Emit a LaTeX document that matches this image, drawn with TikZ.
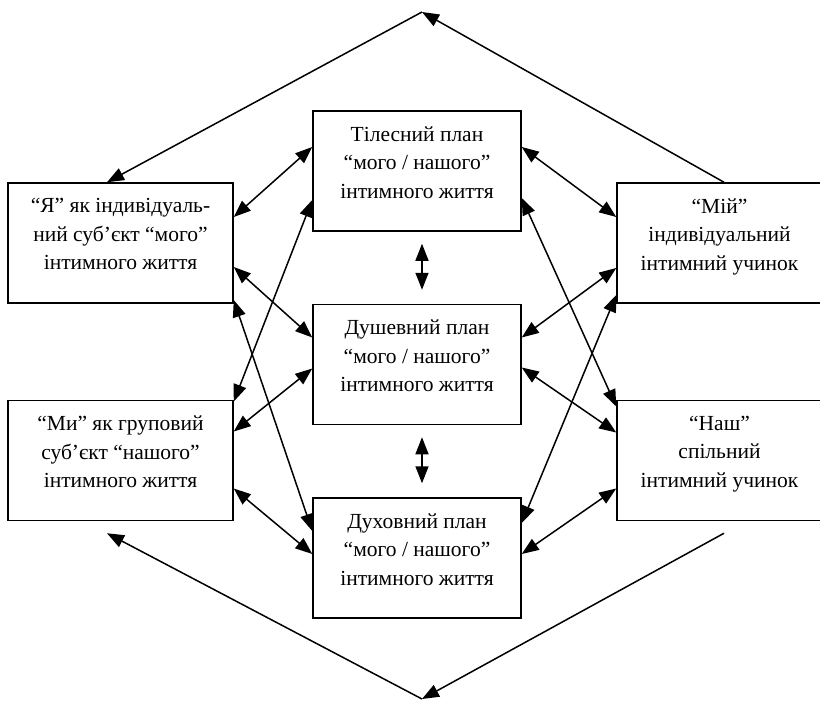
\documentclass[tikz,border=0pt]{standalone}
\usepackage{fontspec}
\setmainfont{Liberation Serif}
\usetikzlibrary{positioning}
\usetikzlibrary{arrows.meta}

\begin{document}
\begin{tikzpicture}[x=1pt, y=-1pt, >={Triangle[length=17pt, width=13pt]},
  box/.style={draw, line width=1.5pt, align=center, minimum height=120pt, inner sep=0pt, font=\fontsize{21.5}{28.5}\selectfont},
  link/.style={<->, line width=1.5pt}]
\useasboundingbox (0,0) rectangle (820,701);
\clip (0,0) rectangle (820,701);
% planes in the middle
\node[box, minimum width=208pt] (c1) at (417,171) {Тілесний план\\“мого / нашого”\\інтимного життя\\[-11pt]\mbox{}};
\node[box, minimum width=208pt, below=72pt of c1] (c2) {Душевний план\\“мого / нашого”\\інтимного життя\\[-11pt]\mbox{}};
\node[box, minimum width=208pt, below=72pt of c2] (c3) {Духовний план\\“мого / нашого”\\інтимного життя\\[-11pt]\mbox{}};
% subjects
\node[box, minimum width=225pt] (l1) at (120.5,243) {“Я” як індивідуаль-\\ний суб’єкт “мого”\\інтимного життя\\[-11pt]\mbox{}};
\node[box, minimum width=225pt, below=96pt of l1] (l2) {“Ми” як груповий\\суб’єкт “нашого”\\інтимного життя\\[-11pt]\mbox{}};
% acts
\node[box, minimum width=205pt] (r1) at (719.5,243) {“Мій”\\індивідуальний\\інтимний учинок\\[-11pt]\mbox{}};
\node[box, minimum width=205pt, below=96pt of r1] (r2) {“Наш”\\спільний\\інтимний учинок\\[-11pt]\mbox{}};

\draw[link] ([yshift=26pt]l1.east) -- ([yshift=24pt]c1.west);
\draw[link] ([yshift=-24pt]l1.east) -- ([yshift=27pt]c2.west);
\draw[link] ([yshift=-57pt]l1.east) -- ([yshift=27pt]c3.west);
\draw[link] ([yshift=59pt]l2.east) -- ([yshift=-29pt]c1.west);
\draw[link] ([yshift=29pt]l2.east) -- ([yshift=-4pt]c2.west);
\draw[link] ([yshift=-28pt]l2.east) -- ([yshift=4pt]c3.west);

\draw[link] ([yshift=24pt]c1.east) -- ([yshift=26pt]r1.west);
\draw[link] ([yshift=-27pt]c1.east) -- ([yshift=54pt]r2.west);
\draw[link] ([yshift=27pt]c2.east) -- ([yshift=-25pt]r1.west);
\draw[link] ([yshift=35pt]c3.east) -- ([yshift=-52pt]r1.west);
\draw[link] ([yshift=-3pt]c2.east) -- ([yshift=28pt]r2.west);
\draw[link] ([yshift=4pt]c3.east) -- ([yshift=-28pt]r2.west);

\draw[link] ([xshift=5pt, yshift=-12pt]c1.south) -- ([xshift=5pt, yshift=14pt]c2.north);
\draw[link] ([xshift=5pt, yshift=-12pt]c2.south) -- ([xshift=5pt, yshift=14pt]c3.north);

% outer loop
\coordinate (top) at (422,12);
\coordinate (bottom) at (422,699);
\draw[->, line width=1.5pt] ([xshift=4.5pt]r1.north) -- (top);
\draw[->, line width=1.5pt] (top) -- ([xshift=-13.5pt]l1.north);
\draw[->, line width=1.5pt] ([xshift=4.5pt, yshift=-12pt]r2.south) -- (bottom);
\draw[->, line width=1.5pt] (bottom) -- ([xshift=-13.5pt, yshift=-12pt]l2.south);
\end{tikzpicture}
\end{document}
